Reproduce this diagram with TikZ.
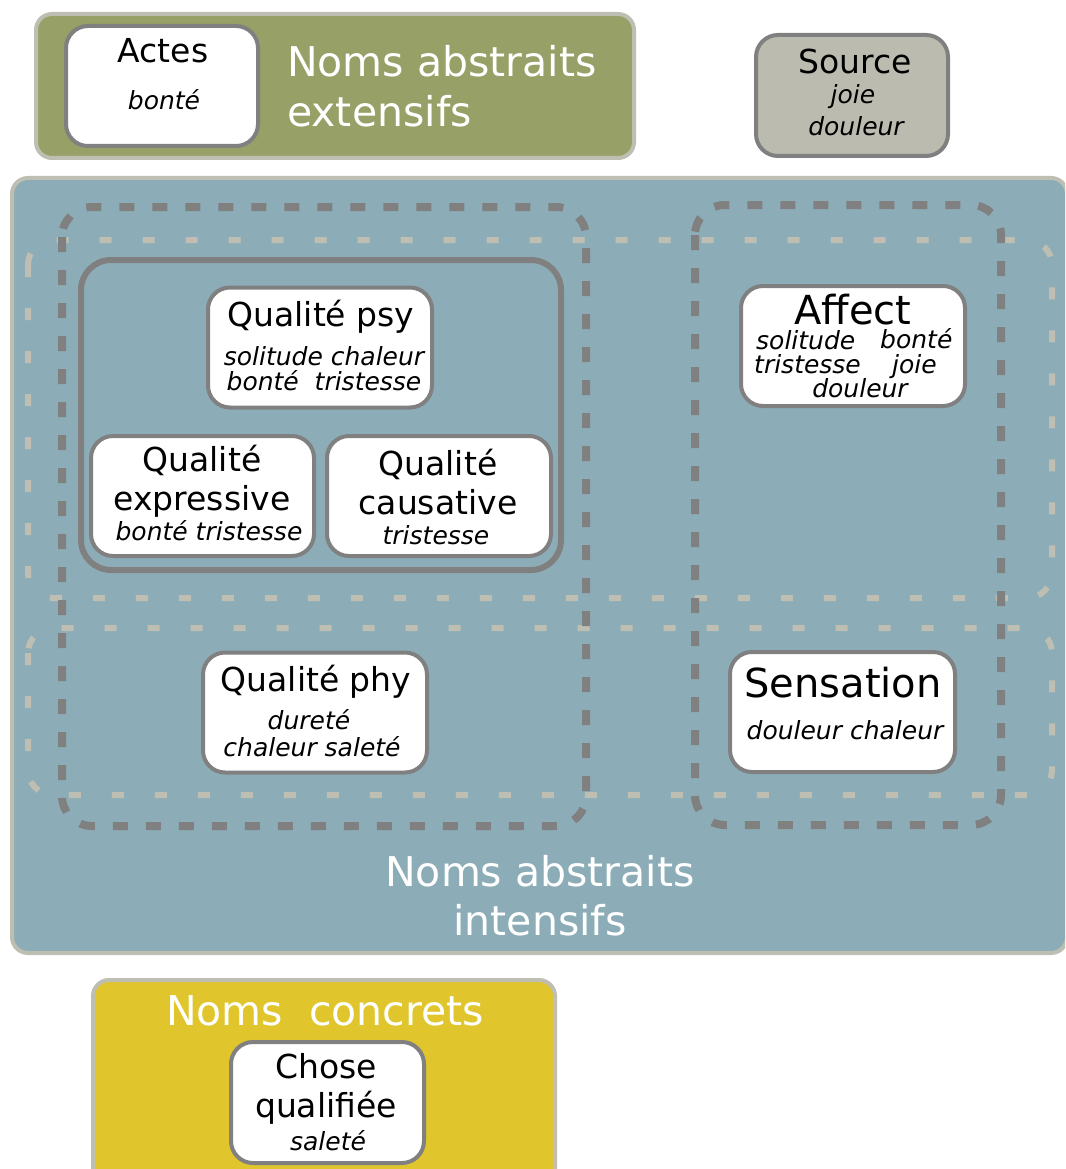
\documentclass[tikz,border=0pt]{standalone}
\usepackage{fontspec}
\setmainfont{DejaVu Sans}[ItalicFont={DejaVu Sans Oblique}]
\usetikzlibrary{positioning}

\definecolor{extgreen}{RGB}{151,160,102}
\definecolor{intblue}{RGB}{140,173,183}
\definecolor{concyellow}{RGB}{224,198,44}
\definecolor{srcgray}{RGB}{187,188,175}
\definecolor{rimgray}{RGB}{190,190,178}
\definecolor{edgegray}{RGB}{128,128,128}

\newcommand{\capfont}{\fontsize{41}{48}\selectfont}
\newcommand{\headfont}{\fontsize{33}{38}\selectfont}
\newcommand{\bigheadfont}{\fontsize{40}{46}\selectfont}
\newcommand{\itemfont}{\fontsize{25}{29}\selectfont\itshape}

\tikzset{
  rim/.style={draw=rimgray, line width=4pt, rounded corners=16pt},
  card/.style={draw=edgegray, fill=white, line width=4pt, rounded corners=22pt,
    minimum width=224pt, minimum height=120pt},
  outerbox/.style={draw=edgegray, line width=8pt, dash pattern=on 15pt off 18pt, rounded corners=30pt},
  bandbox/.style={draw=rimgray, line width=6pt, dash pattern=on 12pt off 31pt, rounded corners=25pt},
  lbl/.style={inner sep=0pt, anchor=base},
  captext/.style={lbl, text=white, font=\capfont},
  headtext/.style={lbl, font=\headfont},
  itemtext/.style={lbl, font=\itemfont}
}

\begin{document}
\begin{tikzpicture}[x=1pt, y=-1pt]
  \clip (0,0) rectangle (1065,1169);

  % noms abstraits extensifs
  \draw[rim, fill=extgreen] (36,14) rectangle (634,158);
  \node[card, minimum width=192pt] (actes) at (162,86) {};
  \node[headtext] (actesT) at (163,63) {Actes};
  \node[itemtext] (actesA) at (164,110) {bonté};
  \node[captext, anchor=base west] (extT) at (287,77) {Noms abstraits};
  \node[captext, anchor=base west] (extU) at (287,127) {extensifs};

  % source
  \node[card, fill=srcgray, minimum width=192pt, minimum height=121pt] (source) at (852,95.5) {};
  \node[headtext] (sourceT) at (855,74) {Source};
  \node[itemtext] (sourceA) at (853,104) {joie};
  \node[itemtext] (sourceB) at (856,136) {douleur};

  % noms abstraits intensifs
  \draw[rim, fill=intblue] (12,178) rectangle (1067,953);
  \draw[bandbox] (28,240) rectangle (1052,598);
  \draw[bandbox] (28,628) rectangle (1052,795);
  \draw[outerbox] (62,207) rectangle (586,826);
  \draw[outerbox] (695,205) rectangle (1001,825);
  \draw[edgegray, line width=6pt, rounded corners=30pt] (81,260) rectangle (561,570);

  \node[card] (psy) at (320,347.5) {};
  \node[headtext] (psyT) at (321,326) {Qualité psy};
  \node[itemtext] (psyA) at (324,365) {solitude chaleur};
  \node[itemtext] (psyB) at (324,390) {bonté~ tristesse};

  \node[card, minimum width=223pt] (expr) at (202.5,496) {};
  \node[headtext] (exprT) at (202,471) {Qualité};
  \node[headtext] (exprU) at (202,510) {expressive};
  \node[itemtext] (exprA) at (209,540) {bonté tristesse};

  \node[card] (caus) at (439,496) {};
  \node[headtext] (causT) at (438,475) {Qualité};
  \node[headtext] (causU) at (438,514) {causative};
  \node[itemtext] (causA) at (436,544) {tristesse};

  \node[card] (affect) at (853,346) {};
  \node[lbl, font=\bigheadfont] (affectT) at (853,324) {Affect};
  \node[itemtext, anchor=base west] (affectA) at (756,349) {solitude};
  \node[itemtext, anchor=base west] (affectB) at (880,348) {bonté};
  \node[itemtext, anchor=base west] (affectC) at (754,373) {tristesse};
  \node[itemtext, anchor=base west] (affectD) at (892,373) {joie};
  \node[itemtext] (affectE) at (860,397) {douleur};

  \node[card] (phy) at (315,712.5) {};
  \node[headtext] (phyT) at (316,691) {Qualité phy};
  \node[itemtext] (phyA) at (309,729) {dureté};
  \node[itemtext] (phyB) at (312,756) {chaleur saleté};

  \node[card, minimum width=225pt] (sens) at (842.5,712) {};
  \node[lbl, font=\bigheadfont] (sensT) at (843,697) {Sensation};
  \node[itemtext] (sensA) at (845,739) {douleur chaleur};

  \node[captext] (intT) at (540,886) {Noms abstraits};
  \node[captext] (intU) at (540,935) {intensifs};

  % noms concrets
  \draw[rim, fill=concyellow] (93,980) rectangle (555,1190);
  \node[captext] (concT) at (325,1025) {Noms~ concrets};
  \node[card, minimum width=193pt, minimum height=121pt] (chose) at (327.5,1102.5) {};
  \node[headtext] (choseT) at (326,1078) {Chose};
  \node[headtext] (choseU) at (326,1117) {qualifiée};
  \node[itemtext] (choseA) at (328,1150) {saleté};
\end{tikzpicture}
\end{document}
